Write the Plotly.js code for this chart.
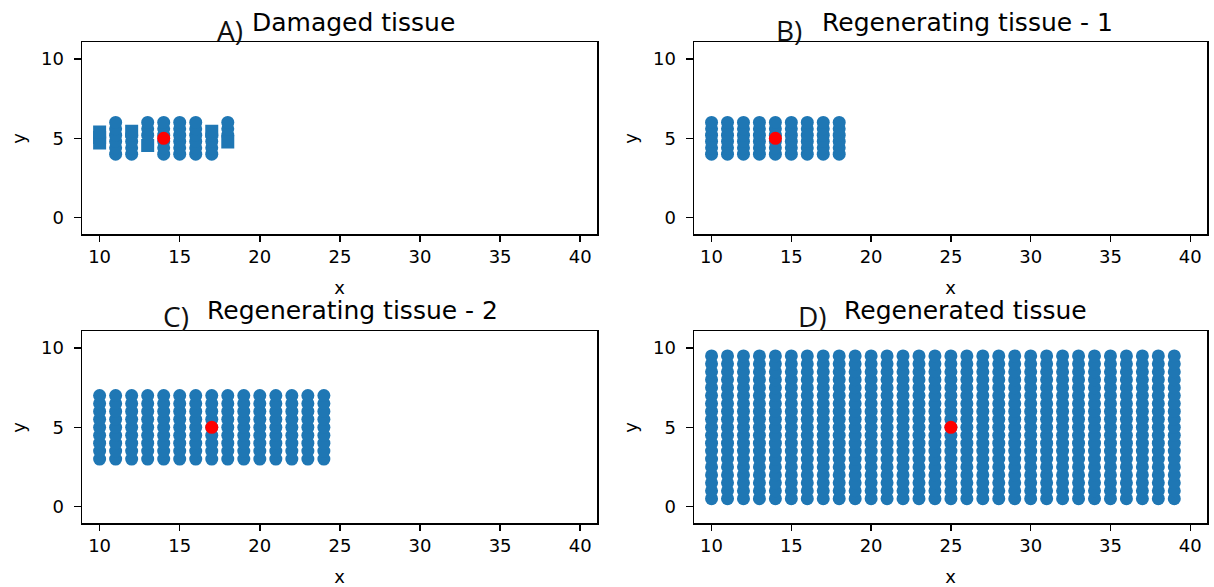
<!DOCTYPE html>
<html>
<head>
<meta charset="utf-8">
<script src="https://cdn.plot.ly/plotly-3.0.1.min.js"></script>
<style>html,body{margin:0;padding:0;background:#fff;}#chart{width:1214px;height:587px;}</style>
</head>
<body>
<div id="chart"></div>
<script>
// ---------- DATA ----------
// Panel A: damaged tissue (explicit cells)
const A_circle_x = [11,11,11,11,11,11, 12,12,12,12, 13,13,13, 14,14,14,14,14,14, 15,15,15,15,15,15, 16,16,16,16,16,16, 17,17,17,17, 18,18,18];
const A_circle_y = [4,4.4,4.8,5.2,5.6,6, 4,4.4,4.8,5.2, 5.2,5.6,6, 4,4.4,4.8,5.2,5.6,6, 4,4.4,4.8,5.2,5.6,6, 4,4.4,4.8,5.2,5.6,6, 4,4.4,4.8,5.2, 5.2,5.6,6];
const A_square_x = [10,10,10, 12, 13, 17, 18];
const A_square_y = [4.7,5.05,5.4, 5.45, 4.55, 5.45, 4.76];
const A_center = {x: [14], y: [5]};

// Panel B: regenerating tissue - 1 (columns x rows)
const B_cols = [10,11,12,13,14,15,16,17,18];
const B_rows = [4,4.4,4.8,5.2,5.6,6];
const B_center = {x: [14], y: [5]};

// Panel C: regenerating tissue - 2
const C_cols = [10,11,12,13,14,15,16,17,18,19,20,21,22,23,24];
const C_rows = [3,3.5,4,4.5,5,5.5,6,6.5,7];
const C_center = {x: [17], y: [5]};

// Panel D: regenerated tissue
const D_cols = [10,11,12,13,14,15,16,17,18,19,20,21,22,23,24,25,26,27,28,29,30,31,32,33,34,35,36,37,38,39];
const D_rows = [0.5,1,1.5,2,2.5,3,3.5,4,4.5,5,5.5,6,6.5,7,7.5,8,8.5,9,9.5];
const D_center = {x: [25], y: [5]};

const panelLetters = ['A)', 'B)', 'C)', 'D)'];
const panelTitles = ['Damaged tissue', 'Regenerating tissue - 1', 'Regenerating tissue - 2', 'Regenerated tissue'];
const xTicks = [10,15,20,25,30,35,40];
const yTicks = [0,5,10];

// ---------- BUILD ----------
const BLUE = '#1f77b4', RED = '#ff0000', MS = 13;
function grid(cols, rows){
  const x=[], y=[];
  cols.forEach(c => rows.forEach(r => { x.push(c); y.push(r); }));
  return {x, y};
}
function pts(x, y, ax, color, symbol){
  return {type:'scatter', mode:'markers', x, y, xaxis:'x'+ax, yaxis:'y'+ax,
    marker:{color, size:MS, symbol:symbol||'circle', line:{width:0}}, hoverinfo:'skip'};
}
const gB = grid(B_cols, B_rows), gC = grid(C_cols, C_rows), gD = grid(D_cols, D_rows);
const traces = [
  pts(A_circle_x, A_circle_y, '', BLUE),
  pts(A_square_x, A_square_y, '', BLUE, 'square'),
  pts(A_center.x, A_center.y, '', RED),
  pts(gB.x, gB.y, '2', BLUE), pts(B_center.x, B_center.y, '2', RED),
  pts(gC.x, gC.y, '3', BLUE), pts(C_center.x, C_center.y, '3', RED),
  pts(gD.x, gD.y, '4', BLUE), pts(D_center.x, D_center.y, '4', RED)
];

const W = 1214, H = 587;
const FONT = 'DejaVu Sans';
const colX = [[82, 597], [694, 1207]];
const rowY = [[42.3, 234.3], [331.3, 523.3]];
function xa(i, col, row){
  return {domain:[colX[col][0]/W, colX[col][1]/W], anchor:'y'+i, range:[8.9, 41.05],
    tickvals:xTicks, ticks:'outside', ticklen:6, tickwidth:1.5, tickcolor:'#000',
    showline:true, linecolor:'#000', linewidth:1.5, mirror:true, showgrid:false, zeroline:false,
    tickfont:{family:FONT, size:18, color:'#000'},
    title:{text:'x', font:{family:FONT, size:18, color:'#000'}, standoff:15}};
}
function ya(i, col, row){
  return {domain:[1-rowY[row][1]/H, 1-rowY[row][0]/H], anchor:'x'+i, range:[-1.05, 11.05],
    tickvals:yTicks, ticks:'outside', ticklen:7, tickwidth:1.5, tickcolor:'#000',
    showline:true, linecolor:'#000', linewidth:1.5, mirror:true, showgrid:false, zeroline:false,
    ticklabelstandoff:6,
    tickfont:{family:FONT, size:18, color:'#000'},
    title:{text:'y', font:{family:FONT, size:18, color:'#000'}, standoff:10}};
}
const layout = {
  width:W, height:H, margin:{l:0,r:0,t:0,b:0}, showlegend:false,
  paper_bgcolor:'#fff', plot_bgcolor:'#fff',
  xaxis:xa('', 0, 0), yaxis:ya('', 0, 0),
  xaxis2:xa('2', 1, 0), yaxis2:ya('2', 1, 0),
  xaxis3:xa('3', 0, 1), yaxis3:ya('3', 0, 1),
  xaxis4:xa('4', 1, 1), yaxis4:ya('4', 1, 1),
  annotations:[]
};
const titlePos = [[353, 22], [967, 22], [352, 310], [965, 310]];
const letterPos = [[230, 30], [789, 30], [176, 316], [812, 316]];
for (let i=0;i<4;i++){
  layout.annotations.push({xref:'paper', yref:'paper', x:titlePos[i][0]/W, y:1-titlePos[i][1]/H,
    xanchor:'center', yanchor:'middle', showarrow:false, text:panelTitles[i],
    font:{family:FONT, size:25, color:'#000'}});
  layout.annotations.push({xref:'paper', yref:'paper', x:letterPos[i][0]/W, y:1-letterPos[i][1]/H,
    xanchor:'center', yanchor:'middle', showarrow:false, text:panelLetters[i],
    font:{family:'Open Sans', size:28, color:'#111'}});
}
Plotly.newPlot('chart', traces, layout, {displayModeBar:false, staticPlot:true});
</script>
</body>
</html>
